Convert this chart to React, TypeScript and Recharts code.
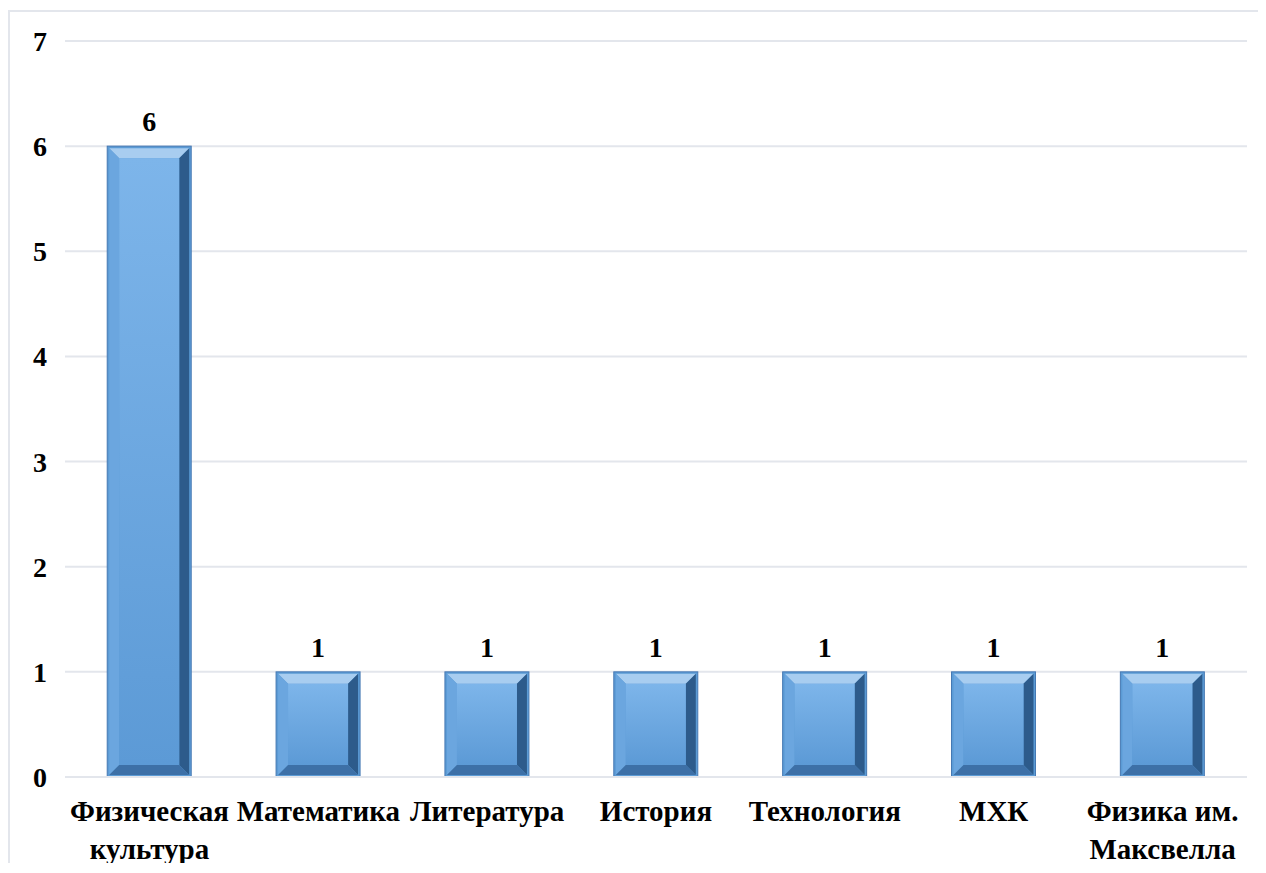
// @ts-nocheck
import { BarChart, Bar, XAxis, YAxis, CartesianGrid, LabelList } from 'recharts';

const categories = [
  'Физическая\nкультура',
  'Математика',
  'Литература',
  'История',
  'Технология',
  'МХК',
  'Физика им.\nМаксвелла',
];
const counts = [6, 1, 1, 1, 1, 1, 1];
const yTicks = [0, 1, 2, 3, 4, 5, 6, 7];

const data = categories.map((name, i) => ({ name, value: counts[i] }));

const FONT = '"Liberation Serif", "Times New Roman", serif';

function BevelBar(props) {
  const { x, y, width: w, height: h } = props;
  if (!h || h <= 0) return null;
  const b = Math.min(10, h / 2, w / 2);
  return (
    <g>
      <rect x={x} y={y} width={w} height={h} fill="#5b9bd5" stroke="#4679b3" strokeWidth={1} />
      <polygon
        points={`${x + 2},${y + 2} ${x + w - 2},${y + 2} ${x + w - 2 - b},${y + 2 + b} ${x + 2 + b},${y + 2 + b}`}
        fill="#a8cdf0"
      />
      <polygon
        points={`${x + 2},${y + 2} ${x + 2 + b},${y + 2 + b} ${x + 2 + b},${y + h - 2 - b} ${x + 2},${y + h - 2}`}
        fill="#6ba6df"
      />
      <polygon
        points={`${x + w - 2},${y + 2} ${x + w - 2},${y + h - 2} ${x + w - 2 - b},${y + h - 2 - b} ${x + w - 2 - b},${y + 2 + b}`}
        fill="#2d5b8b"
      />
      <polygon
        points={`${x + 2},${y + h - 2} ${x + w - 2},${y + h - 2} ${x + w - 2 - b},${y + h - 2 - b} ${x + 2 + b},${y + h - 2 - b}`}
        fill="#3d70a7"
      />
      <rect
        x={x + 2 + b}
        y={y + 2 + b}
        width={Math.max(0, w - 4 - 2 * b)}
        height={Math.max(0, h - 4 - 2 * b)}
        fill="url(#faceGrad)"
      />
    </g>
  );
}

function YTick({ y, payload }) {
  return (
    <text x={31} y={y + 10} textAnchor="middle" fontFamily={FONT} fontWeight="bold" fontSize={28} fill="#000">
      {payload.value}
    </text>
  );
}

function XTick({ x, y, payload }) {
  const lines = String(payload.value).split('\n');
  return (
    <g>
      {lines.map((line, i) => (
        <text
          key={i}
          x={x}
          y={y + 36 + i * 38}
          textAnchor="middle"
          fontFamily={FONT}
          fontWeight="bold"
          fontSize={29}
          fill="#000"
        >
          {line}
        </text>
      ))}
    </g>
  );
}

function ValueLabel({ x, y, width, value }) {
  return (
    <text x={x + width / 2} y={y - 15} textAnchor="middle" fontFamily={FONT} fontWeight="bold" fontSize={28} fill="#000">
      {value}
    </text>
  );
}

export default function App() {
  return (
    <div
      style={{
        position: 'relative',
        top: 2,
        width: 1258,
        height: 855,
        borderTop: '2px solid #e3e6ec',
        borderLeft: '2px solid #e3e6ec',
        boxSizing: 'border-box',
        background: '#fff',
      }}
    >
      <div style={{ position: 'absolute', left: -1, top: -1 }}>
        <BarChart
          width={1250}
          height={858}
          data={data}
          margin={{ top: 30, right: 12, left: 0, bottom: 0 }}
          barCategoryGap="25%"
        >
          <defs>
            <linearGradient id="faceGrad" x1="0" y1="0" x2="0" y2="1">
              <stop offset="0%" stopColor="#7db5ea" />
              <stop offset="100%" stopColor="#5c9ad6" />
            </linearGradient>
          </defs>
          <CartesianGrid vertical={false} stroke="#e3e6ec" strokeWidth={2} />
          <XAxis
            dataKey="name"
            axisLine={{ stroke: '#e3e6ec', strokeWidth: 2 }}
            tickLine={false}
            interval={0}
            height={92}
            tick={<XTick />}
          />
          <YAxis
            domain={[0, 7]}
            ticks={yTicks}
            axisLine={false}
            tickLine={false}
            width={56}
            tick={<YTick />}
          />
          <Bar dataKey="value" shape={<BevelBar />} isAnimationActive={false}>
            <LabelList dataKey="value" content={<ValueLabel />} />
          </Bar>
        </BarChart>
      </div>
    </div>
  );
}
